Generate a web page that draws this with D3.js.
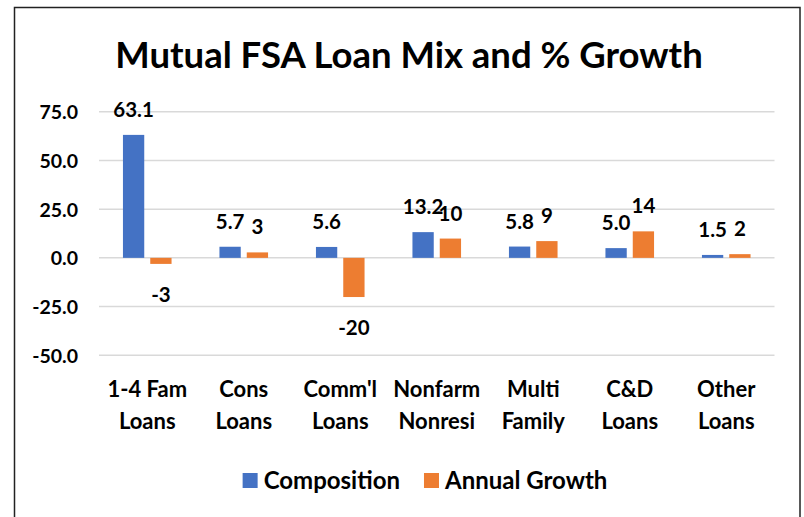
<!DOCTYPE html>
<html>
<head>
<meta charset="utf-8">
<script src="https://cdn.jsdelivr.net/npm/d3@7"></script>
<style>
  body { margin: 0; background: #fff; }
  svg { display: block; font-family: Lato, "Noto Sans", sans-serif; font-weight: bold; }
</style>
</head>
<body>
<svg id="chart" width="804" height="517"></svg>
<script>
// chart data
var categories = [
  ['1-4 Fam', 'Loans'],
  ['Cons', 'Loans'],
  ["Comm'l", 'Loans'],
  ['Nonfarm', 'Nonresi'],
  ['Multi', 'Family'],
  ['C&D', 'Loans'],
  ['Other', 'Loans']
];
var composition = [63.1, 5.7, 5.6, 13.2, 5.8, 5.0, 1.5];
var annualGrowth = [-3.1, 2.8, -20.1, 9.9, 8.6, 13.6, 1.9];
var seriesNames = ['Composition', 'Annual Growth'];
var yTicks = [-50, -25, 0, 25, 50, 75];

var colors = ['#4472C4', '#ED7D31'];
var margin = { top: 111.7, left: 99, right: 774.5, bottom: 355.3 };

// plain hyphen for negatives, like the source
var locale = d3.formatLocale({ decimal: '.', thousands: ',', grouping: [3], currency: ['', ''], minus: '-' });

var svg = d3.select('#chart');

// outer frame
svg.append('rect')
  .attr('x', 14.5).attr('y', 7.5)
  .attr('width', 785.5).attr('height', 530)
  .attr('fill', 'none')
  .attr('stroke', '#222')
  .attr('stroke-width', 1.5);

svg.append('text')
  .attr('x', 409).attr('y', 68)
  .attr('text-anchor', 'middle')
  .attr('font-size', 36.5)
  .attr('fill', '#000')
  .text('Mutual FSA Loan Mix and % Growth');

var x0 = d3.scaleBand()
  .domain(d3.range(categories.length))
  .range([margin.left, margin.right]);

var groupW = 48.6;
var pad = (x0.bandwidth() - groupW) / 2;
var x1 = d3.scaleBand()
  .domain([0, 1])
  .range([pad, pad + groupW])
  .paddingInner(0.22);

var y = d3.scaleLinear()
  .domain([-50, 75])
  .range([margin.bottom, margin.top]);

// gridlines
svg.append('g')
  .selectAll('line')
  .data(yTicks)
  .join('line')
  .attr('x1', margin.left).attr('x2', margin.right)
  .attr('y1', d => y(d)).attr('y2', d => y(d))
  .attr('stroke', '#d9d9d9')
  .attr('stroke-width', 1.5);

// y axis labels
var yAxis = d3.axisLeft(y)
  .tickValues(yTicks)
  .tickFormat(locale.format('.1f'))
  .tickSize(0)
  .tickPadding(0);
var yg = svg.append('g')
  .attr('transform', 'translate(78,0)')
  .call(yAxis);
yg.select('.domain').remove();
yg.selectAll('text')
  .attr('font-size', 19.5)
  .attr('font-family', 'Lato, sans-serif')
  .attr('font-weight', 'bold')
  .attr('fill', '#000')
  .attr('dy', '0.36em');

var series = [composition, annualGrowth];
var fmt = [locale.format('.1f'), locale.format('.0f')];

series.forEach(function(vals, s) {
  var g = svg.append('g');
  g.selectAll('rect')
    .data(vals)
    .join('rect')
    .attr('x', (d, i) => x0(i) + x1(s))
    .attr('width', x1.bandwidth())
    .attr('y', d => y(Math.max(0, d)))
    .attr('height', d => Math.abs(y(d) - y(0)))
    .attr('fill', colors[s]);

  g.selectAll('text')
    .data(vals)
    .join('text')
    .attr('x', (d, i) => x0(i) + x1(s) + x1.bandwidth() / 2)
    .attr('y', d => d >= 0 ? y(d) - 18 : y(d) + 38)
    .attr('text-anchor', 'middle')
    .attr('font-size', 20.5)
    .attr('fill', '#000')
    .text(d => fmt[s](d));
});

// category labels
var cat = svg.append('g')
  .selectAll('text')
  .data(categories)
  .join('text')
  .attr('text-anchor', 'middle')
  .attr('font-size', 22)
  .attr('fill', '#000');
cat.append('tspan')
  .attr('x', (d, i) => x0(i) + x0.bandwidth() / 2)
  .attr('y', 397)
  .text(d => d[0]);
cat.append('tspan')
  .attr('x', (d, i) => x0(i) + x0.bandwidth() / 2)
  .attr('y', 429)
  .text(d => d[1]);

// legend
var legend = svg.append('g');
var items = legend.selectAll('g')
  .data(seriesNames)
  .join('g');
items.append('rect')
  .attr('width', 15).attr('height', 15)
  .attr('y', 473)
  .attr('fill', (d, i) => colors[i]);
items.append('text')
  .attr('x', 21)
  .attr('y', 489)
  .attr('font-size', 24)
  .attr('fill', '#000')
  .text(d => d);

var offset = 0;
var widths = [];
items.each(function() {
  var w = d3.select(this).select('text').node().getComputedTextLength() + 21;
  widths.push(w);
});
var total = d3.sum(widths) + 24 * (widths.length - 1);
offset = 425 - total / 2;
items.attr('transform', function(d, i) {
  var t = 'translate(' + offset + ',0)';
  offset += widths[i] + 24;
  return t;
});
</script>
</body>
</html>
